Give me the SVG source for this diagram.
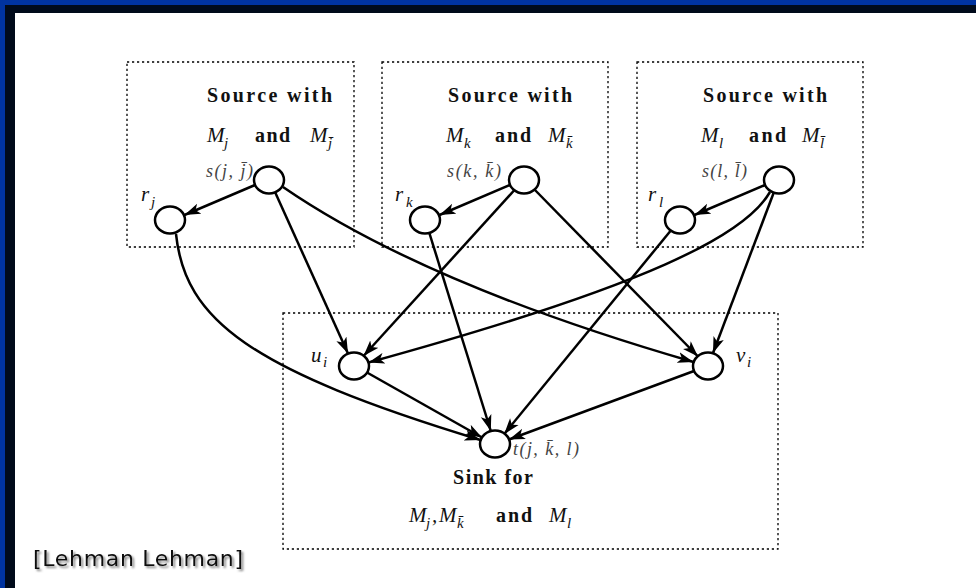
<svg xmlns="http://www.w3.org/2000/svg" width="976" height="588" viewBox="0 0 976 588">
<style>
.box{fill:none;stroke:#000;stroke-width:1.3;stroke-dasharray:2.2 2.8}
.nd{fill:#fff;stroke:#000;stroke-width:2.5}
.ed{fill:none;stroke:#000;stroke-width:2.5;marker-end:url(#ah)}
.bd{font-family:"Liberation Serif",serif;font-weight:bold;font-size:20px;fill:#111}
.mi{font-family:"Liberation Serif",serif;font-style:italic;font-size:21px;fill:#111}
.sub{font-family:"Liberation Serif",serif;font-style:italic;font-size:15px;fill:#111}
.lb{font-family:"Liberation Serif",serif;font-style:italic;font-size:18px;fill:#444}
.ref{font-family:"Comic Sans MS","DejaVu Sans",sans-serif;font-size:22px;fill:#111}
</style>
<defs>
<marker id="ah" markerUnits="userSpaceOnUse" markerWidth="17" markerHeight="12" refX="16" refY="6" orient="auto">
<path d="M0,0.5 L16,6 L0,11.5 L4,6 Z" fill="#000"/>
</marker>
<filter id="sh" x="-5%" y="-20%" width="115%" height="150%"><feDropShadow dx="2" dy="2" stdDeviation="1.2" flood-color="#666" flood-opacity="0.8"/></filter>
</defs>
<rect x="0" y="0" width="976" height="588" fill="#0033a0"/>
<rect x="5" y="5" width="971" height="583" fill="#000a1a"/>
<rect x="15" y="13" width="961" height="575" fill="#fff"/>

<g id="boxes">
<rect class="box" x="127" y="62" width="227" height="185"/>
<rect class="box" x="382" y="62" width="226" height="185"/>
<rect class="box" x="637" y="62" width="226" height="185"/>
<rect class="box" x="283" y="313" width="495" height="236"/>
</g>

<g id="box-j-text">
<text class="bd" x="207" y="102" textLength="125">Source with</text>
<text class="mi" x="207" y="142">M</text><text class="sub" x="224" y="148">j</text>
<text class="bd" x="255" y="142" textLength="35">and</text>
<text class="mi" x="310" y="142">M</text><text class="sub" x="328" y="148">j&#x304;</text>
</g>
<g id="box-k-text">
<text class="bd" x="448" y="102" textLength="124">Source with</text>
<text class="mi" x="446" y="142">M</text><text class="sub" x="464" y="148">k</text>
<text class="bd" x="495" y="142" textLength="36">and</text>
<text class="mi" x="548" y="142">M</text><text class="sub" x="566" y="148">k&#x304;</text>
</g>
<g id="box-l-text">
<text class="bd" x="703" y="102" textLength="124">Source with</text>
<text class="mi" x="701" y="142">M</text><text class="sub" x="719" y="148">l</text>
<text class="bd" x="749" y="142" textLength="37">and</text>
<text class="mi" x="802" y="142">M</text><text class="sub" x="820" y="148">l&#x304;</text>
</g>

<g id="connectors">
<path class="ed" d="M255,185 L184.5,215"/>
<path class="ed" d="M510,185 L439.5,215"/>
<path class="ed" d="M765,185 L694.5,215"/>
<path class="ed" d="M275,192 L348,353.5"/>
<path class="ed" d="M283,187 Q424,284 693.5,362"/>
<path class="ed" d="M176,234 C185,320 250,370 480.5,440"/>
<path class="ed" d="M514.5,190 L363.5,356"/>
<path class="ed" d="M534,189 L698,356.5"/>
<path class="ed" d="M429.5,233.5 L490.8,431"/>
<path class="ed" d="M770,192 C745,235 650,285 368.5,362.5"/>
<path class="ed" d="M773.6,193 L713,353"/>
<path class="ed" d="M670.4,231 L504.2,434"/>
<path class="ed" d="M367,372.5 L482,437.5"/>
<path class="ed" d="M694,371 L509,439.5"/>
</g>

<g id="s_j"><ellipse class="nd" cx="269" cy="180" rx="15" ry="13.5"/><text class="lb" x="206" y="177" textLength="47">s(j, j&#x304;)</text></g>
<g id="r_j"><ellipse class="nd" cx="170" cy="220" rx="15" ry="13.5"/><text class="mi" x="141" y="201" font-size="20">r</text><text class="sub" x="151" y="207">j</text></g>
<g id="s_k"><ellipse class="nd" cx="524" cy="180" rx="15" ry="13.5"/><text class="lb" x="447" y="177" textLength="54">s(k, k&#x304;)</text></g>
<g id="r_k"><ellipse class="nd" cx="425" cy="220" rx="15" ry="13.5"/><text class="mi" x="395" y="201" font-size="20">r</text><text class="sub" x="406" y="207">k</text></g>
<g id="s_l"><ellipse class="nd" cx="779" cy="180" rx="15" ry="13.5"/><text class="lb" x="702" y="177" textLength="45">s(l, l&#x304;)</text></g>
<g id="r_l"><ellipse class="nd" cx="680" cy="220" rx="15" ry="13.5"/><text class="mi" x="648" y="201" font-size="20">r</text><text class="sub" x="659" y="207">l</text></g>
<g id="u_i"><ellipse class="nd" cx="354" cy="366" rx="15" ry="13.5"/><text class="mi" x="311" y="362" font-size="20">u</text><text class="sub" x="323" y="367">i</text></g>
<g id="v_i"><ellipse class="nd" cx="708" cy="366" rx="15" ry="13.5"/><text class="mi" x="736" y="362" font-size="20">v</text><text class="sub" x="747" y="367">i</text></g>
<g id="t">
<ellipse class="nd" cx="495" cy="444" rx="15" ry="13.5"/>
<text class="lb" x="513" y="455" textLength="66">t(j, k&#x304;, l)</text>
<text class="bd" x="453" y="484" textLength="80">Sink for</text>
<text class="mi" x="409" y="522">M</text><text class="sub" x="426" y="528">j</text><text class="mi" x="432" y="522">,</text>
<text class="mi" x="439" y="522">M</text><text class="sub" x="457" y="528">k&#x304;</text>
<text class="bd" x="496" y="522" textLength="36">and</text>
<text class="mi" x="549" y="522">M</text><text class="sub" x="567" y="528">l</text>
</g>

<g id="citation">
<text class="ref" x="33" y="566" filter="url(#sh)" textLength="210">[Lehman Lehman]</text>
</g>
</svg>
